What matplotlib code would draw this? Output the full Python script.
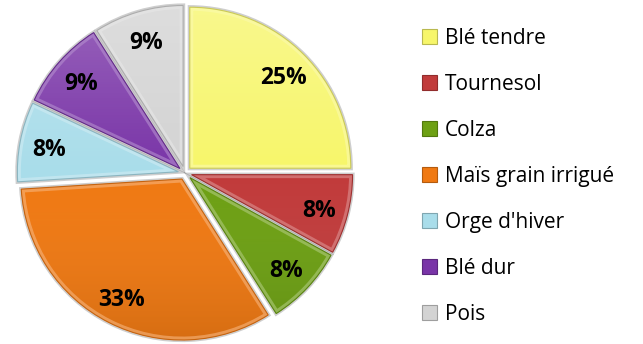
import matplotlib
matplotlib.use("Agg")
import numpy as np
import matplotlib.pyplot as plt
from matplotlib.patches import Patch, Wedge
from matplotlib.colors import to_rgb, LinearSegmentedColormap

labels = ["Blé tendre", "Tournesol", "Colza", "Maïs grain irrigué",
          "Orge d'hiver", "Blé dur", "Pois"]
shares = [25, 8, 8, 33, 8, 9, 9]
colors = ["#F7F66A", "#C13B3B", "#6DA013", "#F07912", "#A9DDEA", "#7934A7", "#D3D3D3"]


def shade(c, f):
    r = np.array(to_rgb(c))
    return tuple(np.clip(r * f, 0, 1))


def tint(c, f):
    r = np.array(to_rgb(c))
    return tuple(r + (1 - r) * f)


fig = plt.figure(figsize=(6.43, 3.44), dpi=100)
W, H = 643, 344
cx, cy, half, rad = 185, 173, 172, 161
ax = fig.add_axes([(cx - half) / W, (H - cy - half) / H, 2 * half / W, 2 * half / H])

wedges, texts, autotexts = ax.pie(
    shares, colors=colors, startangle=90, counterclock=False,
    explode=[0.042] * len(shares), radius=1.0,
    autopct=lambda p: f"{p:.0f}%", pctdistance=0.82,
    wedgeprops=dict(linewidth=0),
    textprops=dict(fontsize=16.5, fontweight="bold", color="black", family="Open Sans"),
)

# soft shadow and bevel shading for each slice
grad = np.linspace(0, 1, 256).reshape(-1, 1)
cmap = LinearSegmentedColormap.from_list("g", [(1, 1, 1, 0.25), (1, 1, 1, 0.0), (0, 0, 0, 0.12)])
for w, c in zip(wedges, colors):
    w.set_zorder(2)
    sh = Wedge(w.center, w.r, w.theta1, w.theta2, facecolor="none",
               edgecolor=(0.45, 0.45, 0.45, 0.35), linewidth=3.0, zorder=1)
    ax.add_patch(sh)
    img = ax.imshow(grad, extent=(-1.1, 1.1, -1.1, 1.1), origin="upper",
                    cmap=cmap, zorder=3, aspect="auto")
    img.set_clip_path(w)
    rim = Wedge(w.center, w.r, w.theta1, w.theta2, facecolor="none",
                edgecolor=tint(c, 0.45), linewidth=5, alpha=0.6, zorder=4)
    ax.add_patch(rim)
    rim.set_clip_path(w)
    edge = Wedge(w.center, w.r, w.theta1, w.theta2, facecolor="none",
                 edgecolor=shade(c, 0.82), linewidth=0.8, zorder=5)
    ax.add_patch(edge)

# percentage labels sit a little below their slice's radial line
for t in autotexts:
    x, y = t.get_position()
    t.set_position((x, y - 0.02))
    t.set_zorder(6)

lim = half / rad
ax.set_xlim(-lim, lim)
ax.set_ylim(-lim, lim)
ax.set_aspect("equal")
ax.axis("off")

handles = [Patch(facecolor=c, edgecolor=shade(c, 0.75), linewidth=0.8) for c in colors]
fig.legend(handles, labels, loc="upper left", bbox_to_anchor=(422 / W, 1 - 28 / H),
           frameon=False, handlelength=0.72, handleheight=0.72,
           handletextpad=0.38, labelspacing=1.2, borderaxespad=0, borderpad=0,
           prop={"family": "Open Sans", "size": 15})

fig.savefig("out.png", dpi=100)
